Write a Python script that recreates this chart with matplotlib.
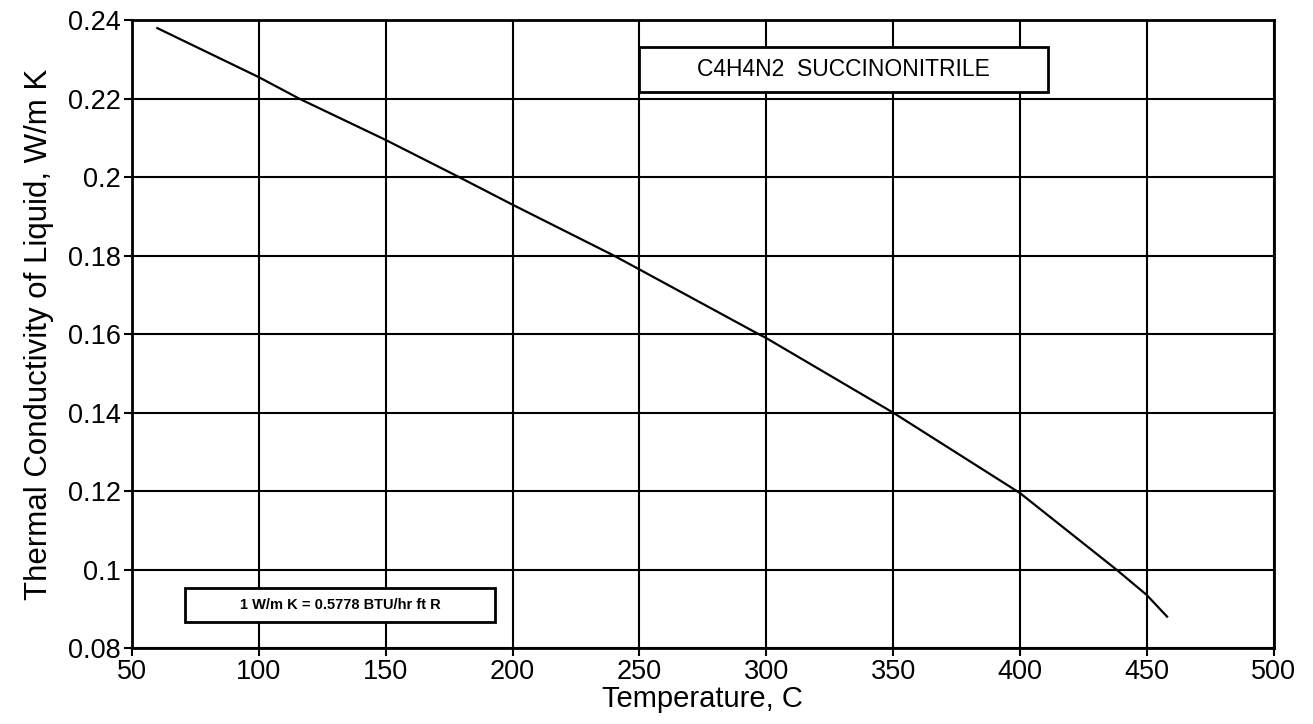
import matplotlib.pyplot as plt
from matplotlib.patches import Rectangle

# curve
temp_c = [60, 100, 116, 150, 179, 200, 240, 250, 297, 300, 350, 400, 438, 450, 458]
k_liquid = [0.238, 0.2255, 0.220, 0.2095, 0.200, 0.193, 0.180, 0.1765,
            0.160, 0.159, 0.140, 0.1195, 0.100, 0.0935, 0.088]

x_ticks = [50, 100, 150, 200, 250, 300, 350, 400, 450, 500]
y_ticks = [0.08, 0.1, 0.12, 0.14, 0.16, 0.18, 0.2, 0.22, 0.24]
y_tick_labels = ["0.08", "0.1", "0.12", "0.14", "0.16", "0.18", "0.2", "0.22", "0.24"]

title_text = "C4H4N2  SUCCINONITRILE"
note_text = "1 W/m K = 0.5778 BTU/hr ft R"

plt.rcParams['font.family'] = ['Liberation Sans', 'DejaVu Sans']

fig = plt.figure(figsize=(13.13, 7.24), dpi=100)
ax = fig.add_axes([0.1005, 0.105, 0.8695, 0.867])

ax.plot(temp_c, k_liquid, color='black', linewidth=1.6)

ax.set_xlim(50, 500)
ax.set_ylim(0.08, 0.24)
ax.set_xticks(x_ticks)
ax.set_yticks(y_ticks)
ax.set_yticklabels(y_tick_labels)
ax.grid(True, color='black', linewidth=1.5)
ax.tick_params(direction='out', length=6, width=1.5, labelsize=19.5, colors='black', pad=2)
for s in ax.spines.values():
    s.set_linewidth(2)

ax.set_xlabel("Temperature, C", fontsize=21, labelpad=0)
ax.set_ylabel("Thermal Conductivity of Liquid, W/m K", fontsize=22.5, labelpad=10)

# label boxes (axes fraction)
for (x0, y0, w, h, txt, fs, fw) in [(0.444, 0.885, 0.358, 0.072, title_text, 16.5, 'normal'),
                                     (0.0464, 0.041, 0.272, 0.0545, note_text, 10.5, 'bold')]:
    ax.add_patch(Rectangle((x0, y0), w, h, transform=ax.transAxes,
                           facecolor='white', edgecolor='black', linewidth=2, zorder=5))
    ax.text(x0 + w / 2, y0 + h / 2, txt, transform=ax.transAxes, ha='center', va='center',
            fontsize=fs, fontweight=fw, zorder=6)

fig.savefig("out.png", dpi=100)
